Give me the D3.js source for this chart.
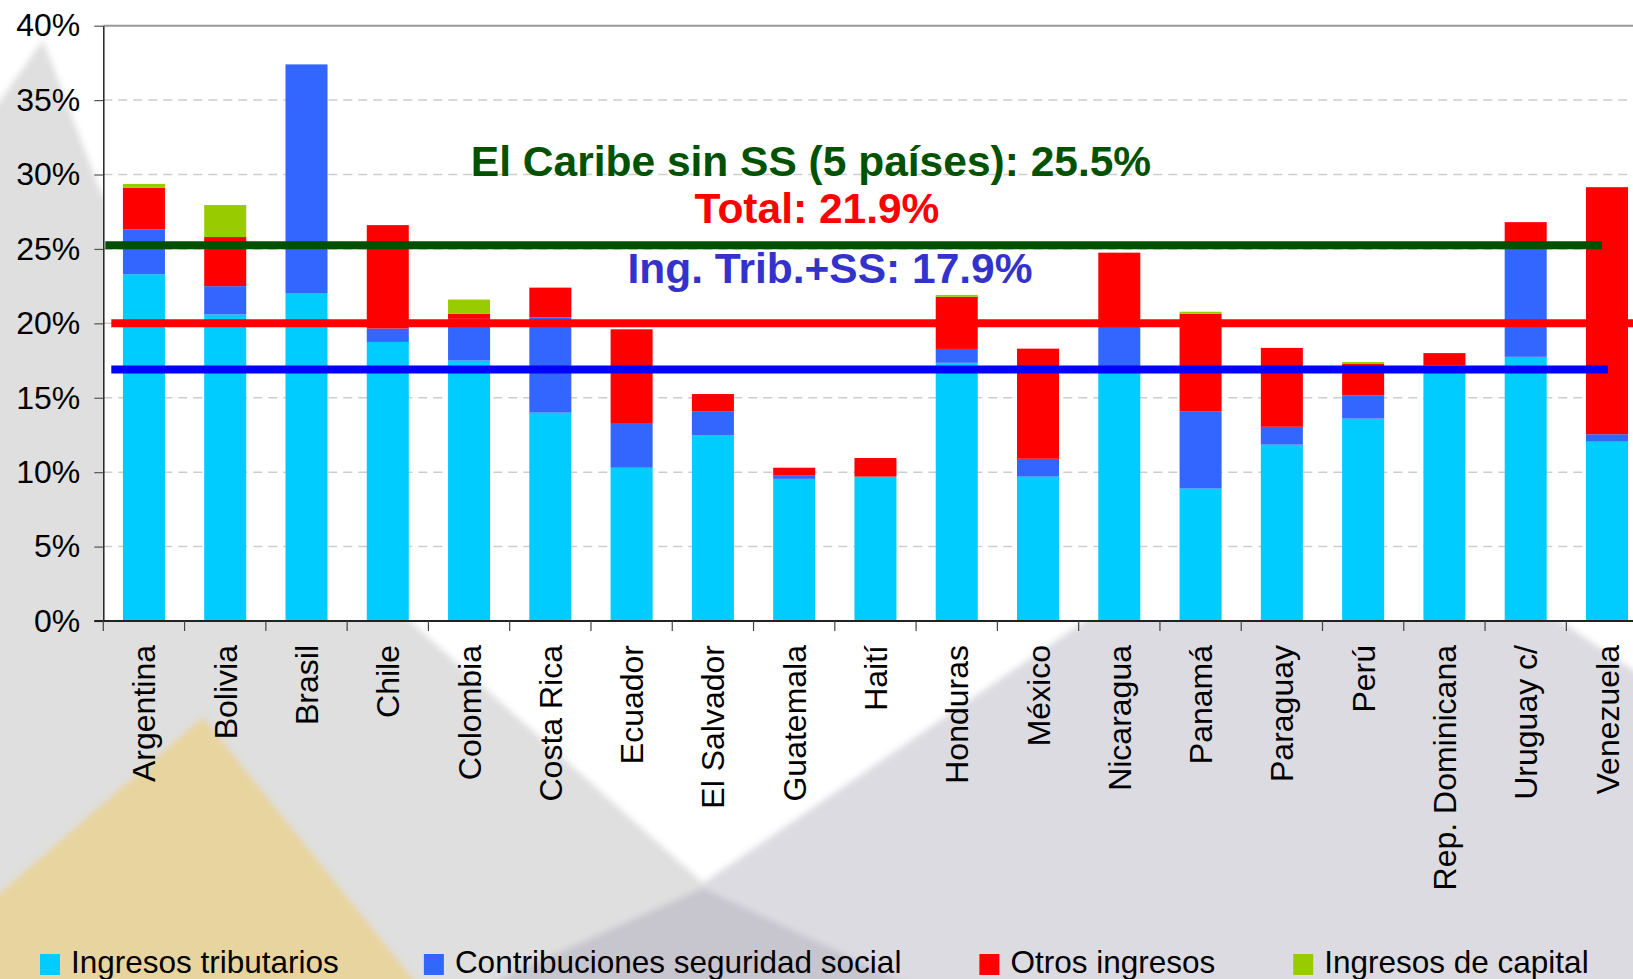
<!DOCTYPE html>
<html>
<head>
<meta charset="utf-8">
<script src="https://cdn.jsdelivr.net/npm/d3@7"></script>
<style>
  body { margin: 0; background: #fff; }
  svg { display: block; font-family: "Liberation Sans", Arial, Helvetica, sans-serif; }
</style>
</head>
<body>
<svg id="chart"></svg>
<script>

// ---- data (% of GDP) ----
const countries = ["Argentina", "Bolivia", "Brasil", "Chile", "Colombia", "Costa Rica", "Ecuador",
  "El Salvador", "Guatemala", "Haití", "Honduras", "México", "Nicaragua", "Panamá", "Paraguay",
  "Perú", "Rep. Dominicana", "Uruguay c/", "Venezuela"];

const tributarios     = [23.3, 20.6, 22.0, 18.75, 17.5, 14.0, 10.3, 12.5, 9.55, 9.7, 17.35, 9.7, 16.9, 8.9, 11.85, 13.6, 17.2, 17.75, 12.05];
const seguridadSocial = [3.0, 1.9, 15.4, 0.9, 2.8, 6.4, 2.95, 1.6, 0.25, 0, 0.93, 1.2, 2.8, 5.2, 1.2, 1.55, 0, 7.65, 0.5];
const otrosIngresos   = [2.8, 3.3, 0, 6.95, 0.35, 2.0, 6.35, 1.15, 0.5, 1.25, 3.5, 7.4, 5.05, 6.55, 5.3, 2.12, 0.8, 1.4, 16.6];
const ingresosCapital = [0.27, 2.15, 0, 0, 0.95, 0, 0, 0, 0, 0, 0.13, 0, 0, 0.13, 0, 0.13, 0, 0, 0];

const seriesKeys   = ["tributarios", "seguridad", "otros", "capital"];
const seriesNames  = ["Ingresos tributarios", "Contribuciones seguridad social", "Otros ingresos", "Ingresos de capital"];
const seriesColors = ["#00ccff", "#3366ff", "#ff0000", "#99cc00"];

const yTicks = [0, 5, 10, 15, 20, 25, 30, 35, 40];

// the three hand drawn reference lines and their captions
const refValues     = [25.25, 20.0, 16.9];
const refLabels     = ["El Caribe sin SS (5 países): 25.5%", "Total: 21.9%", "Ing. Trib.+SS: 17.9%"];
const refLineColors = ["#005000", "#ff0000", "#0000ff"];
const refTextColors = ["#005200", "#ff0000", "#3333cc"];


class StackedBar {

  constructor(_config, _data) {
    this.config = {
      parentElement: _config.parentElement,
      containerWidth: _config.containerWidth || 1633,
      containerHeight: _config.containerHeight || 979,
      margin: { top: 25.7, left: 103.3, bottom: 358 },
      step: 81.28
    }
    this.data = _data;
    this.initVis();
  }

  initVis() {
    let vis = this;

    vis.width = vis.config.step * countries.length;
    vis.height = vis.config.containerHeight - vis.config.margin.top - vis.config.margin.bottom;

    vis.svg = d3.select(vis.config.parentElement)
        .attr('width', vis.config.containerWidth)
        .attr('height', vis.config.containerHeight);

    vis.drawBackground();

    // white plot area
    vis.svg.append('rect')
        .attr('x', vis.config.margin.left)
        .attr('y', vis.config.margin.top)
        .attr('width', vis.width)
        .attr('height', vis.height)
        .attr('fill', '#fff');

    vis.chart = vis.svg.append('g')
        .attr('transform', `translate(${vis.config.margin.left},${vis.config.margin.top})`);

    vis.xScale = d3.scaleBand()
        .domain(countries)
        .range([0, vis.width])
        .paddingInner(0.483)
        .paddingOuter(0.2415);

    vis.yScale = d3.scaleLinear()
        .domain([0, 40])
        .range([vis.height, 0]);

    vis.updateVis();
  }

  drawBackground() {
    let vis = this;
    // soft slide decoration (mountains) behind the chart
    let defs = vis.svg.append('defs');
    defs.append('filter')
        .attr('id', 'soft')
        .attr('filterUnits', 'userSpaceOnUse')
        .attr('x', -100).attr('y', -100).attr('width', 1900).attr('height', 1300)
      .append('feGaussianBlur').attr('stdDeviation', 3);

    let bg = vis.svg.append('g').attr('filter', 'url(#soft)');
    const shapes = [
      { fill: '#dedfde', pts: [[-60, 185], [43, 40], [100, 190], [411, 622], [703, 883], [703, 1060], [-60, 1060]] },
      { fill: '#dddbe2', pts: [[703, 883], [1083, 622], [1321, 459], [1633, 670], [1720, 728], [1720, 1060], [703, 1060]] },
      { fill: '#c7c5cd', pts: [[703, 888], [320, 1060], [1070, 1060]] },
      { fill: '#e8d49e', pts: [[203, 717], [-60, 945], [-60, 1060], [478, 1060]] }
    ];
    bg.selectAll('polygon')
      .data(shapes)
      .join('polygon')
        .attr('points', d => d.pts.map(p => p.join(',')).join(' '))
        .attr('fill', d => d.fill);
  }

  updateVis() {
    let vis = this;

    vis.stack = d3.stack().keys(seriesKeys);
    vis.stacked = vis.stack(vis.data);

    vis.renderVis();
  }

  renderVis() {
    let vis = this;
    const x = vis.xScale, y = vis.yScale;

    // gridlines
    vis.chart.append('g')
      .selectAll('line')
      .data(yTicks.filter(d => d > 0 && d < 40))
      .join('line')
        .attr('x1', 0)
        .attr('x2', vis.width)
        .attr('y1', d => y(d))
        .attr('y2', d => y(d))
        .attr('stroke', '#cdcdcd')
        .attr('stroke-width', 1.5)
        .attr('stroke-dasharray', '9,6');

    vis.chart.append('line')
        .attr('x1', 0).attr('x2', vis.width)
        .attr('y1', y(40)).attr('y2', y(40))
        .attr('stroke', '#999')
        .attr('stroke-width', 2);

    // bars
    vis.chart.selectAll('.layer')
      .data(vis.stacked)
      .join('g')
        .attr('class', 'layer')
        .attr('fill', (d, i) => seriesColors[i])
      .selectAll('rect')
      .data(d => d)
      .join('rect')
        .attr('x', d => x(d.data.country))
        .attr('width', x.bandwidth())
        .attr('y', d => y(d[1]))
        .attr('height', d => y(d[0]) - y(d[1]));

    // y axis
    vis.yAxis = d3.axisLeft(y)
        .tickValues(yTicks)
        .tickSize(9)
        .tickSizeOuter(0)
        .tickPadding(14)
        .tickFormat(d => d + '%');

    vis.yAxisG = vis.chart.append('g')
        .attr('class', 'axis y-axis')
        .call(vis.yAxis);
    vis.yAxisG.select('.domain').attr('stroke', '#222').attr('stroke-width', 1.5);
    vis.yAxisG.selectAll('.tick line').attr('stroke', '#555').attr('stroke-width', 1.2);
    vis.yAxisG.selectAll('.tick text')
        .attr('font-size', 32)
        .attr('font-family', '"Liberation Sans", Arial, sans-serif')
        .attr('fill', '#000');

    // x axis: line, ticks between categories, rotated names
    vis.chart.append('line')
        .attr('x1', -9).attr('x2', vis.width)
        .attr('y1', vis.height).attr('y2', vis.height)
        .attr('stroke', '#222')
        .attr('stroke-width', 2);

    vis.chart.append('g')
      .selectAll('line')
      .data(d3.range(countries.length + 1))
      .join('line')
        .attr('x1', i => x.step() * i)
        .attr('x2', i => x.step() * i)
        .attr('y1', vis.height)
        .attr('y2', vis.height + 10)
        .attr('stroke', '#444')
        .attr('stroke-width', 1.2);

    vis.chart.append('g')
      .selectAll('text')
      .data(countries)
      .join('text')
        .attr('transform', d => `translate(${x(d) + x.bandwidth() / 2},${vis.height + 24}) rotate(-90)`)
        .attr('dy', '0.36em')
        .attr('text-anchor', 'end')
        .attr('font-size', 32)
        .attr('fill', '#000')
        .text(d => d);

    // reference lines on top of the bars
    const last = countries[countries.length - 1];
    const lineStart = [2, 8, 8];
    const lineEnd = [x(last) + x.bandwidth() / 2 - 5, vis.width, x(last) + x.bandwidth() / 2 + 1];
    vis.chart.append('g')
      .selectAll('line')
      .data(refValues)
      .join('line')
        .attr('x1', (d, i) => lineStart[i])
        .attr('x2', (d, i) => lineEnd[i])
        .attr('y1', d => y(d))
        .attr('y2', d => y(d))
        .attr('stroke', (d, i) => refLineColors[i])
        .attr('stroke-width', 8);

    // captions
    const capX = [811, 817, 830];
    const capY = [176, 223, 283];
    vis.svg.append('g')
      .selectAll('text')
      .data(refLabels)
      .join('text')
        .attr('x', (d, i) => capX[i])
        .attr('y', (d, i) => capY[i])
        .attr('text-anchor', 'middle')
        .attr('font-size', 42.5)
        .attr('font-weight', 'bold')
        .attr('fill', (d, i) => refTextColors[i])
        .text(d => d);

    // legend (excel spaced the entries a bit unevenly)
    let legend = vis.svg.append('g').attr('class', 'legend');
    const gaps = [85, 78, 78];
    let lx = 40;
    seriesNames.forEach((name, i) => {
      legend.append('rect')
          .attr('x', lx).attr('y', 954)
          .attr('width', 20).attr('height', 21)
          .attr('fill', seriesColors[i]);
      let t = legend.append('text')
          .attr('x', lx + 31).attr('y', 973)
          .attr('font-size', 31.5)
          .attr('fill', '#000')
          .text(name);
      lx = lx + 31 + t.node().getComputedTextLength() + (gaps[i] || 0);
    });
  }
}

const data = countries.map((c, i) => ({
  country: c,
  tributarios: tributarios[i],
  seguridad: seguridadSocial[i],
  otros: otrosIngresos[i],
  capital: ingresosCapital[i]
}));

new StackedBar({ parentElement: '#chart', containerWidth: 1633, containerHeight: 979 }, data);

</script>
</body>
</html>
